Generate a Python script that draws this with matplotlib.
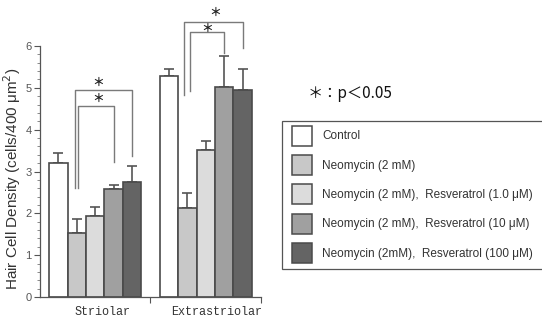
import matplotlib
matplotlib.use("Agg")
import matplotlib.pyplot as plt
from matplotlib.patches import Patch, Rectangle
import numpy as np

# Groups, treatments and measured densities (mean and upper SE)
regions = ["Striolar", "Extrastriolar"]
treatments = [
    "Control",
    "Neomycin (2 mM)",
    "Neomycin (2 mM),  Resveratrol (1.0 \u03bcM)",
    "Neomycin (2 mM),  Resveratrol (10 \u03bcM)",
    "Neomycin (2mM),  Resveratrol (100 \u03bcM)",
]
striolar_mean = [3.20, 1.52, 1.93, 2.57, 2.74]
striolar_err = [0.24, 0.35, 0.23, 0.11, 0.38]
extra_mean = [5.29, 2.12, 3.52, 5.02, 4.95]
extra_err = [0.17, 0.37, 0.20, 0.73, 0.50]
colors = ["#ffffff", "#c8c8c8", "#dcdcdc", "#a0a0a0", "#646464"]

# Significance brackets:
# (group, treatment a, treatment b, left shift, top, left foot, right foot,
#  asterisk x, asterisk y)
brackets = [
    (0, 1, 3, 0.08, 4.56, 2.60, 3.23, 2.15, 4.74),
    (0, 1, 4, -0.10, 4.95, 2.60, 3.37, 2.17, 5.13),
    (1, 1, 3, 0.14, 6.33, 4.92, 5.84, 8.05, 6.41),
    (1, 1, 4, -0.17, 6.57, 4.83, 5.95, 8.50, 6.81),
]

fig = plt.figure(figsize=(5.42, 3.2), dpi=100)
ax = fig.add_axes([40 / 542, 23 / 320, 221 / 542, 251 / 320])

edge = "#4a4a4a"
group_offsets = [0, 6]
means = [striolar_mean, extra_mean]
errs = [striolar_err, extra_err]
for g, off in enumerate(group_offsets):
    x = off + np.arange(len(treatments))
    ax.bar(x, means[g], width=1.0, color=colors, edgecolor=edge, linewidth=1.2,
           zorder=2)
    ax.errorbar(x, means[g], yerr=[np.zeros(len(x)), errs[g]], fmt="none",
                ecolor="#555555", elinewidth=1.2, capsize=3.5, capthick=1.2,
                zorder=1)

# Brackets with asterisks
for g, a, b, shift, top, ya, yb, sx, sy in brackets:
    xa = group_offsets[g] + a + shift
    xb = group_offsets[g] + b
    ax.plot([xa, xa, xb, xb], [ya, top, top, yb], color="#7a7a7a", lw=1.0,
            clip_on=False, zorder=3)
    ax.text(sx, sy, "\uff0a", ha="center", va="center",
            fontsize=8.5, fontweight="bold",
            family=["Noto Sans CJK JP", "DejaVu Sans"],
            color="#222222", clip_on=False, zorder=4)

ax.set_xlim(-1, 11)
ax.set_ylim(0, 6)
ax.spines["top"].set_visible(False)
ax.spines["right"].set_visible(False)
for s in ("left", "bottom"):
    ax.spines[s].set_color("#555555")
    ax.spines[s].set_linewidth(0.9)

ax.set_yticks(range(7))
ax.set_yticks(np.arange(0, 6.01, 0.2), minor=True)
ax.tick_params(axis="y", which="major", length=4, width=0.8, color="#555555",
               labelsize=8, labelcolor="#555555", pad=2)
ax.tick_params(axis="y", which="minor", length=2, width=0.6, color="#777777")
for t in ax.get_yticklabels():
    t.set_family("Liberation Sans")
ax.set_xticks([5, 11])
ax.set_xticklabels([])
ax.tick_params(axis="x", length=4, width=0.8, color="#555555")

for name, xc in zip(regions, [2.4, 8.6]):
    ax.text(xc, -0.22, name, ha="center", va="top", fontsize=8.5,
            family="Liberation Mono", color="#333333")

ax.set_ylabel("Hair Cell Density (cells/400 \u03bcm$^2$)", fontsize=11,
              family="Liberation Sans", color="#333333")
ax.yaxis.set_label_coords(-0.077, 0.47)

fig.text(308 / 542, 1 - 94 / 320, "\uff0a\uff1ap\uff1c0.05", ha="left",
         va="center", fontsize=11, family=["Noto Sans CJK JP", "DejaVu Sans"],
         color="#111111")

# Legend box runs off the right edge of the figure
fig.patches.append(Rectangle((282 / 542, 1 - 269 / 320), 0.6, 148 / 320,
                             transform=fig.transFigure, facecolor="white",
                             edgecolor="#555555", linewidth=0.9, zorder=0))
handles = [Patch(facecolor=c, edgecolor=edge, linewidth=1.1) for c in colors]
leg = fig.legend(handles, treatments, loc="upper left",
                 bbox_to_anchor=(292 / 542, 1 - 125.5 / 320),
                 prop={"family": "Liberation Sans", "size": 8.5},
                 handlelength=1.7, handleheight=2.25, labelspacing=0.78,
                 handletextpad=0.85, borderpad=0, borderaxespad=0,
                 frameon=False)
for t in leg.get_texts():
    t.set_color("#333333")

fig.savefig("out.png", dpi=100)
